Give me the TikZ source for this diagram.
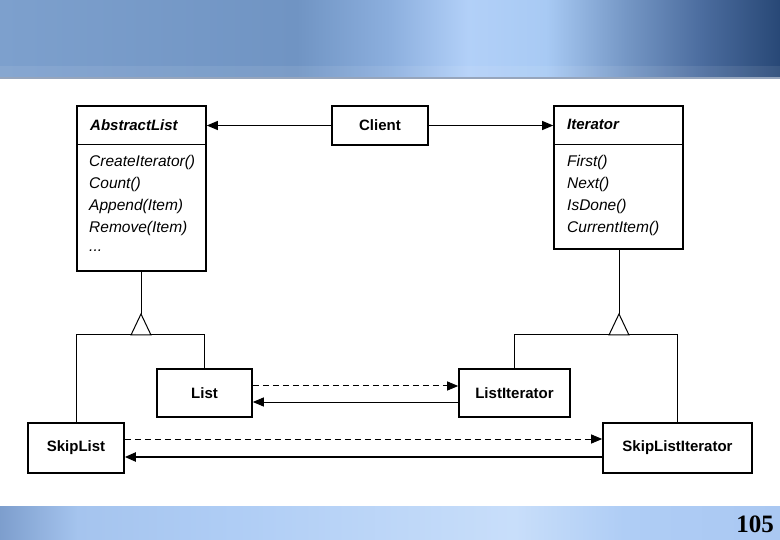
\documentclass[tikz,border=0pt]{standalone}
\usepackage{fontspec}
\setmainfont{Liberation Sans}
\newfontfamily\pagenumfont{Liberation Serif}
\usetikzlibrary{arrows.meta,calc}
\definecolor{h0}{RGB}{125,160,205}
\definecolor{h1}{RGB}{112,148,195}
\definecolor{h2}{RGB}{140,175,222}
\definecolor{h3}{RGB}{178,208,248}
\definecolor{h4}{RGB}{168,202,244}
\definecolor{h5}{RGB}{118,152,198}
\definecolor{h6}{RGB}{75,108,158}
\definecolor{h7}{RGB}{40,72,118}
\definecolor{f0}{RGB}{125,158,205}
\definecolor{f1}{RGB}{165,196,238}
\definecolor{f2}{RGB}{175,205,245}
\definecolor{f3}{RGB}{200,222,250}
\definecolor{f4}{RGB}{170,200,242}
\definecolor{edge}{RGB}{150,165,188}
\pgfdeclarehorizontalshading{hdr}{100bp}{color(0bp)=(h0); color(25bp)=(h0); color(44bp)=(h1); color(50bp)=(h2); color(55bp)=(h3); color(60bp)=(h4); color(65bp)=(h5); color(70bp)=(h6); color(75bp)=(h7); color(100bp)=(h7)}
\pgfdeclarehorizontalshading{ftr}{100bp}{color(0bp)=(f0); color(25bp)=(f0); color(30bp)=(f1); color(40bp)=(f2); color(58bp)=(f3); color(65bp)=(f2); color(75bp)=(f4); color(100bp)=(f4)}
\tikzset{
  box/.style={draw=black, line width=1.6pt, fill=white, inner sep=0pt},
  cname/.style={font=\fontsize{15}{18}\selectfont\bfseries},
  aname/.style={font=\fontsize{15}{18}\selectfont\bfseries\itshape, anchor=west, inner sep=0pt},
  meth/.style={font=\fontsize{15.5}{18}\selectfont\itshape, anchor=west, inner sep=0pt},
  thin/.style={line width=1pt},
  assoc/.style={line width=1pt, -{Triangle[length=11pt,width=9pt]}},
  assocthick/.style={line width=2pt, -{Triangle[length=11pt,width=9pt]}},
  dep/.style={line width=1pt, dash pattern=on 6pt off 4pt, -{Triangle[length=11pt,width=9pt]}},
  inh/.style={line width=1pt, fill=white},
}
\begin{document}
\begin{tikzpicture}[x=1pt,y=-1pt]
\useasboundingbox (0,0) rectangle (780,540);
% header band
\shade[shading=hdr] (0,0) rectangle (780,78);
\fill[white, opacity=0.08] (0,66) rectangle (780,77);
\fill[edge] (0,77) rectangle (780,79);
% footer band
\shade[shading=ftr] (0,506) rectangle (780,540);
\node[font=\pagenumfont\bfseries\fontsize{25}{28}\selectfont, anchor=east, inner sep=0pt] (pnum) at (774,524) {105};

% AbstractList
\node[box, minimum width=129pt, minimum height=165pt] (abs) at (141.5,188.5) {};
\draw[line width=1pt] (abs.west |- 0,145) -- (abs.east |- 0,145);
\node[aname] (absname) at (90,125) {AbstractList};
\node[meth] (am1) at (89,162) {CreateIterator()};
\node[meth] (am2) at (89,184) {Count()};
\node[meth] (am3) at (89,206) {Append(Item)};
\node[meth] (am4) at (89,228) {Remove(Item)};
\node[meth] (am5) at (89,251) {...};

% Client
\node[box, minimum width=96pt, minimum height=39pt, cname] (client) at (380,125.5) {Client};

% Iterator
\node[box, minimum width=129pt, minimum height=143pt] (iter) at (618.5,177.5) {};
\draw[line width=1pt] (iter.west |- 0,145) -- (iter.east |- 0,145);
\node[aname] (itname) at (567,124) {Iterator};
\node[meth] (im1) at (567,162) {First()};
\node[meth] (im2) at (567,184) {Next()};
\node[meth] (im3) at (567,206) {IsDone()};
\node[meth] (im4) at (567,228) {CurrentItem()};

% concrete classes
\node[box, minimum width=95pt, minimum height=48pt, cname] (list) at (204.5,393) {List};
\node[box, minimum width=96pt, minimum height=50pt, cname] (skip) at (76,448) {SkipList};
\node[box, minimum width=111pt, minimum height=48pt, cname] (listit) at (514.5,393) {ListIterator};
\node[box, minimum width=149pt, minimum height=50pt, cname] (skipit) at (677.5,448) {SkipListIterator};

% associations Client -> AbstractList / Iterator
\draw[assoc] (client.west) -- (client.west -| abs.east);
\draw[assoc] (client.east) -- (client.east -| iter.west);

% inheritance left
\coordinate (tl) at (141,314);
\draw[thin] (abs.south -| tl) -- (tl);
\draw[thin] (skip.north) |- (list.north |- 0,335) -- (list.north);
\draw[inh] (tl) -- (131,335) -- (151,335) -- cycle;

% inheritance right
\coordinate (tr) at (619,314);
\draw[thin] (iter.south -| tr) -- (tr);
\draw[thin] (listit.north) |- (skipit.north |- 0,335) -- (skipit.north);
\draw[inh] (tr) -- (609,335) -- (629,335) -- cycle;

% List <-> ListIterator
\draw[dep] (list.east |- 0,386) -- (listit.west |- 0,386);
\draw[assoc] (listit.west |- 0,402) -- (list.east |- 0,402);

% SkipList <-> SkipListIterator
\draw[dep] (skip.east |- 0,439) -- (skipit.west |- 0,439);
\draw[assocthick] (skipit.west |- 0,457) -- (skip.east |- 0,457);
\end{tikzpicture}
\end{document}
